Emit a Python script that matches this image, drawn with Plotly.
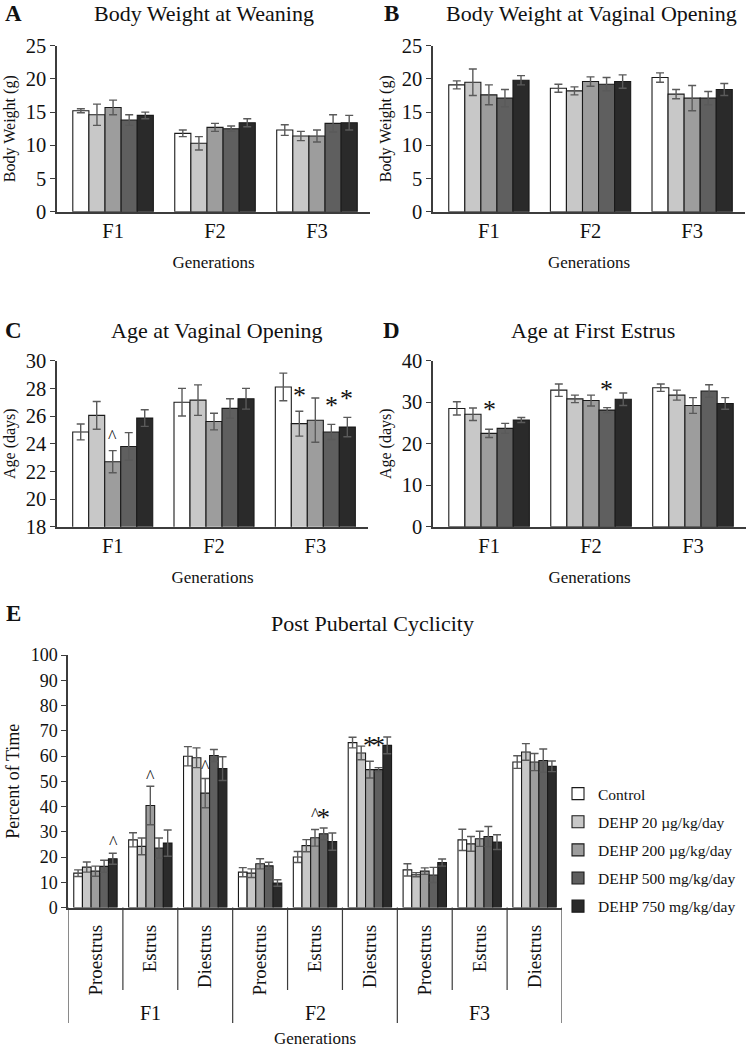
import plotly.graph_objects as go

W, H = 750, 1047
FONT = "Liberation Serif"

groups = ["Control", "DEHP 20 µg/kg/day", "DEHP 200 µg/kg/day",
          "DEHP 500 mg/kg/day", "DEHP 750 mg/kg/day"]
colors = ["#ffffff", "#c8c8c8", "#9d9d9d", "#5f5f5f", "#2a2a2a"]
gens = ["F1", "F2", "F3"]
phases = ["Proestrus", "Estrus", "Diestrus"]

# A - body weight at weaning (rows = treatment, cols = F1..F3)
wean_mean = [[15.2, 11.8, 12.3], [14.6, 10.3, 11.4], [15.7, 12.7, 11.4],
             [13.8, 12.5, 13.3], [14.5, 13.4, 13.4]]
wean_err = [[0.3, 0.5, 0.8], [1.6, 1.0, 0.7], [1.1, 0.6, 0.9],
            [0.8, 0.4, 1.3], [0.5, 0.6, 1.1]]

# B - body weight at vaginal opening
vo_wt_mean = [[19.1, 18.6, 20.2], [19.5, 18.2, 17.7], [17.6, 19.6, 17.1],
              [17.1, 19.2, 17.1], [19.8, 19.6, 18.4]]
vo_wt_err = [[0.6, 0.6, 0.7], [2.0, 0.6, 0.7], [1.5, 0.7, 1.9],
             [1.3, 1.0, 1.0], [0.7, 1.0, 0.9]]

# C - age at vaginal opening
vo_age_mean = [[24.85, 27.0, 28.1], [26.05, 27.15, 25.45], [22.7, 25.6, 25.7],
               [23.8, 26.55, 24.85], [25.85, 27.25, 25.2]]
vo_age_err = [[0.57, 1.0, 1.0], [1.0, 1.1, 0.9], [0.8, 0.6, 1.6],
              [1.0, 0.7, 0.55], [0.6, 0.75, 0.7]]

# D - age at first estrus
fe_age_mean = [[28.5, 32.9, 33.5], [27.1, 30.8, 31.7], [22.5, 30.4, 29.2],
               [23.7, 28.1, 32.7], [25.7, 30.7, 29.7]]
fe_age_err = [[1.6, 1.5, 0.9], [1.5, 0.9, 1.2], [1.0, 1.3, 1.9],
              [1.2, 0.6, 1.5], [0.6, 1.5, 1.4]]

# E - post pubertal cyclicity (F1 P/E/D, F2 P/E/D, F3 P/E/D)
cyc_mean = [[13.6, 26.8, 59.9, 14.0, 20.0, 65.3, 14.9, 26.8, 57.6],
            [16.0, 24.2, 59.3, 13.6, 24.5, 61.2, 13.0, 25.2, 61.6],
            [14.4, 40.4, 45.3, 17.3, 27.6, 54.6, 14.4, 27.2, 57.6],
            [16.3, 23.5, 60.2, 16.5, 29.2, 54.6, 12.9, 28.1, 58.2],
            [19.3, 25.5, 55.0, 9.7, 26.1, 64.2, 17.8, 25.9, 55.9]]
cyc_err = [[1.3, 2.8, 3.8, 1.8, 2.2, 2.1, 2.4, 4.2, 2.5],
           [2.0, 3.3, 3.9, 1.7, 2.4, 2.7, 0.8, 2.9, 3.3],
           [2.0, 7.6, 5.8, 2.0, 3.3, 3.3, 1.3, 3.0, 3.4],
           [2.4, 4.0, 2.4, 1.4, 2.3, 0.8, 3.0, 4.0, 4.6],
           [2.2, 5.2, 4.7, 1.3, 3.4, 3.3, 1.4, 2.9, 2.1]]

# significance marks: (panel, category index, treatment index, symbol, y)
marks = [("C", 0, 2, "^", 23.6), ("C", 2, 1, "*", 26.3), ("C", 2, 3, "*", 25.6),
         ("C", 2, 4, "*", 26.1), ("D", 0, 2, "*", 24.3), ("D", 1, 3, "*", 29.0),
         ("E", 0, 4, "^", 20.7), ("E", 1, 2, "^", 47.0), ("E", 2, 2, "^", 51.0),
         ("E", 4, 2, "^", 31.7), ("E", 4, 3, "*", 29.2), ("E", 5, 2, "*", 57.5),
         ("E", 5, 3, "*", 57.5)]

cyc_cats = [g + " " + p for g in gens for p in phases]


def px(x):
    return x / W


def py(y):
    return 1 - y / H


fig = go.Figure()

panels = {
    "A": dict(ax="", mean=wean_mean, err=wean_err, x=gens),
    "B": dict(ax="2", mean=vo_wt_mean, err=vo_wt_err, x=gens),
    "C": dict(ax="3", mean=vo_age_mean, err=vo_age_err, x=gens),
    "D": dict(ax="4", mean=fe_age_mean, err=fe_age_err, x=gens),
    "E": dict(ax="5", mean=cyc_mean, err=cyc_err, x=cyc_cats),
}

for key, p in panels.items():
    for i, name in enumerate(groups):
        fig.add_trace(go.Bar(
            x=p["x"], y=p["mean"][i], name=name,
            xaxis="x" + p["ax"], yaxis="y" + p["ax"],
            marker=dict(color=colors[i], line=dict(color="#1a1a1a", width=1.1)),
            error_y=dict(type="data", array=p["err"][i], color="#5a5a5a",
                         thickness=1.4, width=4),
            showlegend=(key == "E"), legendgroup=name,
        ))

axis_line = dict(showline=True, linecolor="#3c3c3c", linewidth=1.5,
                 showgrid=False, zeroline=False, mirror=False)
tf = dict(family=FONT, size=20.5, color="#111")


def xcat(dom):
    return dict(axis_line, domain=[px(dom[0]), px(dom[1])], type="category",
                range=[-0.55, 2.52], ticks="", tickfont=tf,
                title=dict(text="Generations", font=dict(family=FONT, size=17, color="#111"),
                           standoff=15))


def yax(top, bot, rng, dtick, title, size=16):
    return dict(axis_line, domain=[py(bot), py(top)], range=rng, dtick=dtick,
                ticks="outside", ticklen=5, tickcolor="#3c3c3c", tickfont=tf,
                title=dict(text=title, font=dict(family=FONT, size=size, color="#111"),
                           standoff=6))


fig.update_layout(
    xaxis=dict(xcat((57, 370)), anchor="y"),
    yaxis=dict(yax(45.7, 211.7, [0, 25], 5, "Body Weight (g)"), anchor="x"),
    xaxis2=dict(xcat((433, 745)), anchor="y2"),
    yaxis2=dict(yax(45.7, 211.7, [0, 25], 5, "Body Weight (g)"), anchor="x2"),
    xaxis3=dict(xcat((57, 368)), anchor="y3"),
    yaxis3=dict(yax(360.7, 526.7, [18, 30], 2, "Age (days)"), anchor="x3"),
    xaxis4=dict(xcat((433, 746)), anchor="y4"),
    yaxis4=dict(yax(360.7, 526.7, [0, 40], 10, "Age (days)"), anchor="x4"),
    xaxis5=dict(axis_line, domain=[px(68), px(562)], type="category", anchor="y5",
                range=[-0.5, 8.5], tickmode="array", tickvals=cyc_cats,
                ticktext=[p for g in gens for p in phases], tickangle=-90,
                ticks="outside", ticklen=8, tickcolor="rgba(0,0,0,0)",
                tickfont=dict(family=FONT, size=19, color="#111")),
    yaxis5=dict(yax(655, 907.5, [0, 100], 10, "Percent of Time", 18), anchor="x5"),
)
fig.layout.yaxis5.tickfont.size = 18

# dividers under the cyclicity axis
for i in range(10):
    fig.add_shape(type="line", xref="x5", yref="paper", x0=i - 0.5, x1=i - 0.5,
                  y0=py(907.5), y1=py(1023 if i % 3 == 0 else 990),
                  line=dict(color="#3c3c3c", width=1.2))

ann = []
for j, g in enumerate(gens):
    ann.append(dict(x=cyc_cats[3 * j + 1], xref="x5", y=py(1013), yref="paper",
                    text=g, showarrow=False, xanchor="center", yanchor="middle",
                    font=dict(family=FONT, size=20, color="#111")))
ann.append(dict(x=px(315), y=py(1038), xref="paper", yref="paper", text="Generations",
                showarrow=False, xanchor="center", yanchor="middle",
                font=dict(family=FONT, size=17, color="#111")))

titles = [("A", 13, 13, 204, 13, "Body Weight at Weaning"),
          ("B", 391, 13, 591, 13, "Body Weight at Vaginal Opening"),
          ("C", 13, 330, 217, 330, "Age at Vaginal Opening"),
          ("D", 391, 330, 593, 330, "Age at First Estrus"),
          ("E", 13, 613, 372, 623, "Post Pubertal Cyclicity")]
for letter, lx, ly, tx, ty, text in titles:
    ann.append(dict(x=px(lx), y=py(ly), xref="paper", yref="paper",
                    text="<b>" + letter + "</b>", showarrow=False,
                    xanchor="center", yanchor="middle",
                    font=dict(family=FONT, size=23, color="#111")))
    ann.append(dict(x=px(tx), y=py(ty), xref="paper", yref="paper",
                    text=text, showarrow=False, xanchor="center", yanchor="middle",
                    font=dict(family=FONT, size=22, color="#111")))

for panel, ci, ti, sym, yv in marks:
    p = panels[panel]
    bw = 8.8 if panel == "E" else 15.8
    ann.append(dict(x=p["x"][ci], xref="x" + p["ax"], y=yv, yref="y" + p["ax"],
                    text=sym, showarrow=False, xshift=(ti - 2) * bw,
                    xanchor="center", yanchor="bottom",
                    font=dict(family=FONT, size=26 if sym == "*" else 18, color="#111")))

fig.update_layout(
    annotations=ann,
    width=W, height=H, template="none",
    margin=dict(l=0, r=0, t=0, b=0),
    paper_bgcolor="white", plot_bgcolor="white",
    barmode="group", bargap=0.21, bargroupgap=0,
    font=dict(family=FONT, color="#111"),
    legend=dict(x=px(558), y=py(777), xanchor="left", yanchor="top",
                font=dict(family=FONT, size=15.5, color="#111"),
                tracegroupgap=5, itemwidth=30, bgcolor="rgba(0,0,0,0)"),
)

fig.write_html("out.html", config={"displayModeBar": False},
               post_script="document.body.style.margin='0';")
